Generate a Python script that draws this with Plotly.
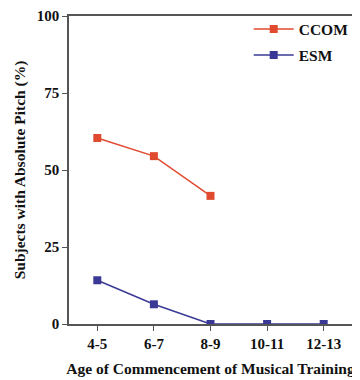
import plotly.graph_objects as go

categories = ["4-5", "6-7", "8-9", "10-11", "12-13"]
ccom_values = [60.4, 54.5, 41.6]
esm_values = [14.2, 6.4, 0, 0, 0]
y_ticks = [0, 25, 50, 75, 100]

FONT = "Liberation Serif"
fig = go.Figure()
fig.add_trace(go.Scatter(
    x=categories[:len(ccom_values)], y=ccom_values, name="CCOM",
    mode="lines+markers", legendgroup="a",
    line=dict(color="#E04B30", width=1.5),
    marker=dict(symbol="square", size=8, color="#E04B30"),
))
fig.add_trace(go.Scatter(
    x=categories, y=esm_values, name="ESM",
    mode="lines+markers", legendgroup="b",
    line=dict(color="#3A3A96", width=1.5),
    marker=dict(symbol="square", size=8, color="#3A3A96"),
))

# The page adds an 8px body margin, so the figure is sized to fit the window.
fig.update_layout(
    width=352, height=372,
    margin=dict(l=61, r=8, t=8, b=56, autoexpand=False),
    paper_bgcolor="white", plot_bgcolor="white",
    font=dict(family=FONT, color="#111"),
    legend=dict(
        x=0.635, y=1.012, xanchor="left", yanchor="top",
        font=dict(family=FONT, size=15.5, weight="bold"),
        bgcolor="rgba(0,0,0,0)", tracegroupgap=3, itemwidth=40,
    ),
    xaxis=dict(
        type="category", categoryorder="array", categoryarray=categories,
        range=[-0.5, 4.5],
        showgrid=False, zeroline=False,
        showline=True, linecolor="#555", linewidth=1.5, mirror=True,
        ticks="outside", ticklen=5, tickcolor="#555",
        ticklabeloverflow="allow",
        tickfont=dict(family=FONT, size=15, weight="bold"),
        title=dict(text="Age of Commencement of Musical Training",
                   font=dict(family=FONT, size=15.5, weight="bold"), standoff=12),
    ),
    yaxis=dict(
        range=[0, 100], tickvals=y_ticks,
        showgrid=False, zeroline=False,
        showline=True, linecolor="#555", linewidth=1.5, mirror=True,
        ticks="outside", ticklen=5, tickcolor="#555",
        ticklabeloverflow="allow",
        tickfont=dict(family=FONT, size=15, weight="bold"),
        title=dict(text="Subjects with Absolute Pitch (%)",
                   font=dict(family=FONT, size=15.5, weight="bold"), standoff=7),
    ),
)
fig.write_html("out.html")
